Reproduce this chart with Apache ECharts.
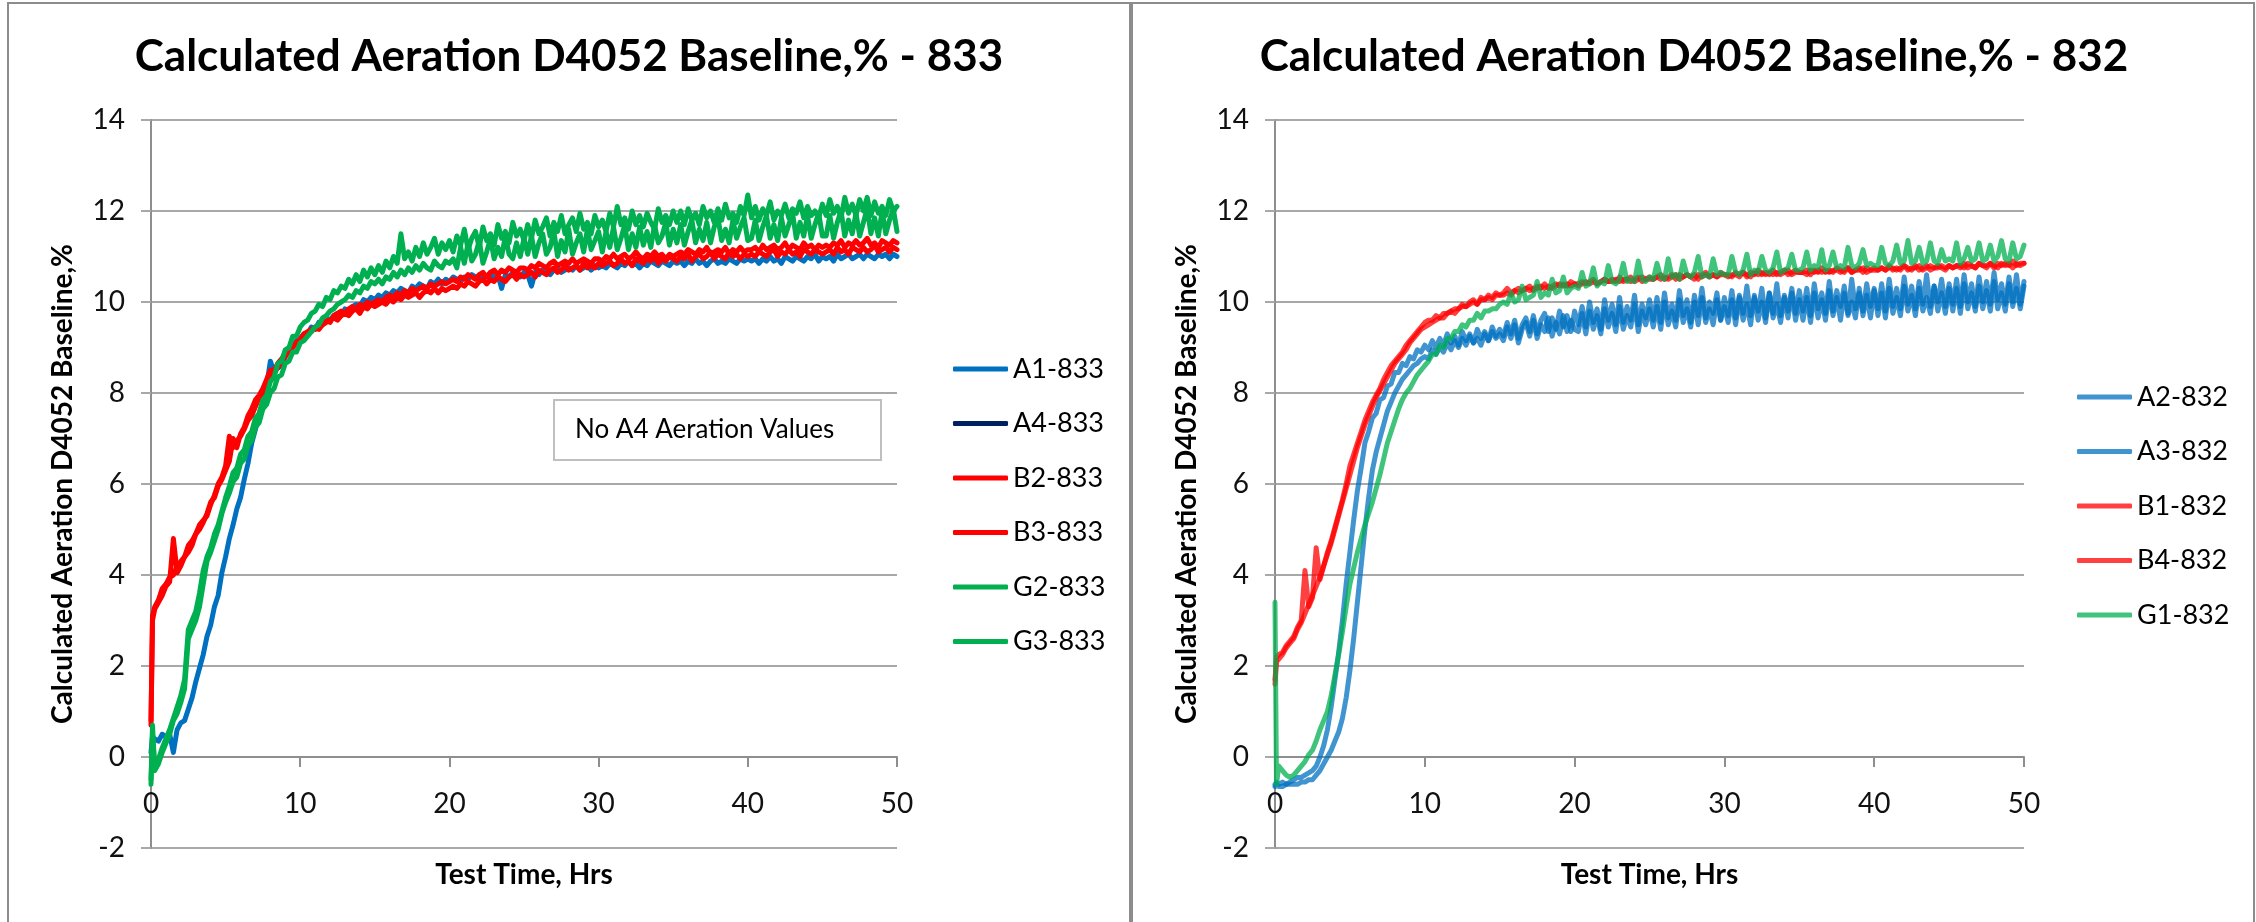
<!DOCTYPE html>
<html>
<head>
<meta charset="utf-8">
<title>Calculated Aeration D4052 Baseline</title>
<script src="https://cdn.jsdelivr.net/npm/echarts@6/dist/echarts.min.js"></script>
<style>
  html, body { margin: 0; padding: 0; background: #ffffff; }
  #chart { width: 2256px; height: 922px; }
</style>
</head>
<body>
<div id="chart"></div>
<script>
// Sample times (hours) shared by every run
const hours = [0, 0.1,
  0.25, 0.5, 0.75, 1, 1.25, 1.5, 1.75, 2, 2.25, 2.5, 2.75, 3, 3.25, 3.5, 3.75, 4, 4.25, 4.5, 4.75, 5,
  5.25, 5.5, 5.75, 6, 6.25, 6.5, 6.75, 7, 7.25, 7.5, 7.75, 8, 8.25, 8.5, 8.75, 9, 9.25, 9.5, 9.75, 10,
  10.25, 10.5, 10.75, 11, 11.25, 11.5, 11.75, 12, 12.25, 12.5, 12.75, 13, 13.25, 13.5, 13.75, 14, 14.25, 14.5, 14.75, 15,
  15.25, 15.5, 15.75, 16, 16.25, 16.5, 16.75, 17, 17.25, 17.5, 17.75, 18, 18.25, 18.5, 18.75, 19, 19.25, 19.5, 19.75, 20,
  20.25, 20.5, 20.75, 21, 21.25, 21.5, 21.75, 22, 22.25, 22.5, 22.75, 23, 23.25, 23.5, 23.75, 24, 24.25, 24.5, 24.75, 25,
  25.25, 25.5, 25.75, 26, 26.25, 26.5, 26.75, 27, 27.25, 27.5, 27.75, 28, 28.25, 28.5, 28.75, 29, 29.25, 29.5, 29.75, 30,
  30.25, 30.5, 30.75, 31, 31.25, 31.5, 31.75, 32, 32.25, 32.5, 32.75, 33, 33.25, 33.5, 33.75, 34, 34.25, 34.5, 34.75, 35,
  35.25, 35.5, 35.75, 36, 36.25, 36.5, 36.75, 37, 37.25, 37.5, 37.75, 38, 38.25, 38.5, 38.75, 39, 39.25, 39.5, 39.75, 40,
  40.25, 40.5, 40.75, 41, 41.25, 41.5, 41.75, 42, 42.25, 42.5, 42.75, 43, 43.25, 43.5, 43.75, 44, 44.25, 44.5, 44.75, 45,
  45.25, 45.5, 45.75, 46, 46.25, 46.5, 46.75, 47, 47.25, 47.5, 47.75, 48, 48.25, 48.5, 48.75, 49, 49.25, 49.5, 49.75, 50];

const xTicks = [0, 10, 20, 30, 40, 50];
const yTicks = [-2, 0, 2, 4, 6, 8, 10, 12, 14];

// ---- Oil 833 ----
const a1_833 = [0.1, 0.45,
  0.4, 0.35, 0.5, 0.45, 0.5, 0.1, 0.6, 0.75, 0.8, 1.05, 1.3, 1.65, 1.95, 2.25, 2.65, 2.9, 3.3, 3.55, 4.05, 4.4,
  4.8, 5.1, 5.45, 5.7, 6.1, 6.45, 6.9, 7.2, 7.55, 7.8, 8.15, 8.7, 8.45, 8.55, 8.6, 8.8, 8.95, 9.0, 9.15, 9.2,
  9.3, 9.3, 9.45, 9.4, 9.55, 9.5, 9.65, 9.6, 9.7, 9.75, 9.7, 9.85, 9.8, 9.9, 9.95, 9.9, 10.05, 10.0, 10.1, 10.05,
  10.15, 10.1, 10.2, 10.15, 10.25, 10.2, 10.3, 10.25, 10.2, 10.35, 10.3, 10.4, 10.35, 10.3, 10.45, 10.4, 10.5, 10.4, 10.5, 10.45,
  10.55, 10.5, 10.45, 10.55, 10.5, 10.6, 10.55, 10.5, 10.6, 10.55, 10.65, 10.5, 10.6, 10.3, 10.6, 10.55, 10.65, 10.6, 10.55, 10.65,
  10.6, 10.35, 10.65, 10.6, 10.7, 10.65, 10.6, 10.7, 10.75, 10.65, 10.7, 10.75, 10.7, 10.8, 10.7, 10.75, 10.8, 10.7, 10.8, 10.75,
  10.8, 10.75, 10.85, 10.8, 10.75, 10.85, 10.8, 10.9, 10.8, 10.85, 10.75, 10.85, 10.8, 10.9, 10.85, 10.8, 10.9, 10.85, 10.8, 10.9,
  10.85, 10.9, 10.8, 10.9, 10.85, 10.95, 10.85, 10.9, 10.8, 10.9, 10.95, 10.85, 10.9, 10.85, 10.95, 10.9, 10.85, 10.95, 10.9, 10.95,
  10.9, 10.95, 10.85, 10.95, 10.9, 11.0, 10.9, 10.95, 10.85, 11.0, 10.95, 10.9, 11.0, 10.95, 10.9, 11.0, 10.95, 11.05, 10.9, 11.0,
  10.95, 11.0, 10.9, 11.05, 10.95, 11.0, 11.05, 10.95, 11.0, 11.05, 10.95, 11.05, 11.0, 10.95, 11.05, 11.0, 11.05, 10.95, 11.05, 11.0];
const a4_833 = [];
const b2_833 = [0.7, 3.0,
  3.25, 3.4, 3.55, 3.75, 3.85, 4.8, 4.05, 4.2, 4.4, 4.5, 4.65, 4.9, 5.0, 5.15, 5.35, 5.6, 5.7, 5.95, 6.1, 6.3,
  6.5, 7.0, 6.8, 7.1, 7.25, 7.5, 7.65, 7.85, 7.95, 8.1, 8.3, 8.5, 8.5, 8.65, 8.75, 8.85, 8.9, 9.05, 9.1, 9.2,
  9.25, 9.3, 9.35, 9.45, 9.4, 9.5, 9.55, 9.6, 9.65, 9.6, 9.7, 9.75, 9.7, 9.8, 9.85, 9.75, 9.9, 9.85, 9.95, 9.9,
  9.95, 10.0, 9.95, 10.05, 10.0, 10.1, 10.05, 10.15, 10.1, 10.15, 10.2, 10.1, 10.2, 10.25, 10.2, 10.3, 10.2, 10.3, 10.25, 10.3,
  10.35, 10.3, 10.4, 10.35, 10.45, 10.4, 10.35, 10.45, 10.5, 10.4, 10.5, 10.45, 10.55, 10.5, 10.45, 10.55, 10.6, 10.5, 10.6, 10.55,
  10.6, 10.65, 10.55, 10.7, 10.65, 10.6, 10.7, 10.75, 10.65, 10.7, 10.8, 10.7, 10.75, 10.8, 10.7, 10.85, 10.75, 10.8, 10.75, 10.85,
  10.8, 10.85, 10.9, 10.8, 10.85, 10.95, 10.85, 10.9, 10.8, 10.95, 10.9, 10.85, 10.95, 10.9, 11.0, 10.85, 10.95, 10.9, 11.0, 10.95,
  10.9, 11.0, 10.95, 11.05, 10.9, 11.0, 11.05, 10.95, 11.0, 11.1, 10.95, 11.05, 11.0, 10.95, 11.1, 11.0, 11.05, 10.95, 11.05, 11.0,
  11.05, 11.0, 11.1, 11.05, 11.0, 11.1, 11.15, 11.0, 11.1, 11.05, 11.15, 11.05, 11.1, 11.0, 11.15, 11.1, 11.05, 11.15, 11.1, 11.05,
  11.1, 11.15, 11.05, 11.2, 11.1, 11.15, 11.05, 11.2, 11.15, 11.1, 11.2, 11.1, 11.15, 11.25, 11.1, 11.15, 11.2, 11.1, 11.2, 11.15];
const b3_833 = [0.8, 3.1,
  3.3, 3.45, 3.7, 3.8, 3.95, 4.0, 4.2, 4.3, 4.4, 4.65, 4.75, 4.9, 5.1, 5.2, 5.3, 5.55, 5.75, 6.0, 6.15, 6.4,
  7.05, 6.8, 6.95, 7.05, 7.2, 7.4, 7.5, 7.7, 7.9, 8.0, 8.15, 8.35, 8.5, 8.55, 8.7, 8.8, 8.95, 9.0, 9.1, 9.15,
  9.3, 9.35, 9.4, 9.4, 9.5, 9.55, 9.6, 9.55, 9.7, 9.75, 9.8, 9.75, 9.85, 9.9, 9.85, 9.95, 9.9, 10.0, 9.95, 10.0,
  10.05, 10.0, 10.1, 10.15, 10.1, 10.2, 10.15, 10.25, 10.2, 10.3, 10.25, 10.3, 10.35, 10.3, 10.4, 10.35, 10.4, 10.45, 10.4, 10.45,
  10.5, 10.45, 10.55, 10.5, 10.6, 10.55, 10.5, 10.6, 10.65, 10.55, 10.65, 10.7, 10.6, 10.7, 10.65, 10.75, 10.7, 10.65, 10.75, 10.75,
  10.7, 10.8, 10.75, 10.85, 10.8, 10.75, 10.85, 10.9, 10.8, 10.85, 10.9, 10.85, 10.95, 10.85, 10.9, 10.95, 10.9, 10.85, 10.95, 10.95,
  10.9, 11.0, 10.95, 11.05, 10.95, 11.0, 11.05, 10.95, 11.0, 11.1, 11.0, 10.95, 11.05, 11.0, 11.1, 11.0, 11.05, 10.95, 11.05, 11.0,
  11.05, 11.1, 11.05, 11.15, 11.1, 11.05, 11.15, 11.1, 11.2, 11.05, 11.1, 11.15, 11.1, 11.2, 11.05, 11.15, 11.1, 11.2, 11.1, 11.15,
  11.15, 11.2, 11.1, 11.25, 11.15, 11.2, 11.25, 11.15, 11.2, 11.3, 11.15, 11.25, 11.2, 11.15, 11.3, 11.2, 11.25, 11.15, 11.25, 11.2,
  11.25, 11.2, 11.3, 11.25, 11.35, 11.2, 11.3, 11.25, 11.35, 11.25, 11.3, 11.4, 11.25, 11.3, 11.2, 11.35, 11.3, 11.25, 11.35, 11.3];
const g2_833 = [-0.6, 0.7,
  -0.3, -0.15, 0.1, 0.3, 0.5, 0.8, 0.95, 1.2, 1.5, 2.6, 2.8, 3.0, 3.3, 3.8, 4.3, 4.5, 4.75, 5.0, 5.35, 5.6,
  5.8, 6.05, 6.15, 6.45, 6.55, 6.85, 6.95, 7.25, 7.35, 7.65, 7.75, 8.0, 8.1, 8.35, 8.4, 8.65, 8.7, 8.9, 8.9, 9.1,
  9.15, 9.25, 9.35, 9.45, 9.5, 9.65, 9.7, 9.8, 9.85, 9.95, 10.0, 10.05, 10.15, 10.1, 10.25, 10.2, 10.35, 10.3, 10.45, 10.4,
  10.5, 10.4, 10.55, 10.5, 10.65, 10.55, 10.7, 10.6, 10.75, 10.65, 10.8, 10.7, 10.85, 10.75, 10.7, 10.9, 10.8, 10.75, 10.9, 10.85,
  10.95, 10.75, 11.2, 10.85, 11.3, 10.9, 11.05, 11.35, 10.85, 11.1, 11.4, 10.95, 11.2, 11.0, 11.45, 11.05, 10.95, 11.3, 11.0, 11.4,
  11.05, 11.45, 11.0, 11.3, 11.5, 11.05, 11.2, 11.55, 11.0, 11.35, 11.1, 11.6, 11.05, 11.3, 11.5, 11.1, 11.6, 11.15, 11.35, 11.55,
  11.1, 11.55, 11.2, 11.65, 11.15, 11.4, 11.7, 11.15, 11.5, 11.2, 11.65, 11.25, 11.55, 11.2, 11.7, 11.3, 11.45, 11.75, 11.25, 11.6,
  11.3, 11.7, 11.25, 11.55, 11.8, 11.3, 11.6, 11.35, 11.75, 11.3, 11.65, 11.85, 11.35, 11.6, 11.3, 11.8, 11.4, 11.65, 11.85, 11.35,
  11.4, 11.8, 11.35, 11.65, 11.9, 11.4, 11.7, 11.35, 11.85, 11.45, 11.7, 11.95, 11.4, 11.75, 11.45, 11.9, 11.4, 11.7, 11.95, 11.45,
  11.45, 11.9, 11.4, 11.75, 12.0, 11.45, 11.8, 11.5, 11.95, 11.45, 11.75, 12.05, 11.5, 11.85, 11.45, 12.0, 11.5, 11.8, 12.05, 11.55];
const g3_833 = [-0.5, 0.5,
  -0.2, -0.05, 0.2, 0.4, 0.6, 0.85, 1.1, 1.35, 1.7, 2.8, 3.0, 3.2, 3.6, 4.1, 4.4, 4.6, 4.9, 5.1, 5.4, 5.7,
  5.95, 6.25, 6.35, 6.65, 6.75, 7.05, 7.15, 7.45, 7.55, 7.85, 7.95, 8.25, 8.35, 8.65, 8.7, 8.95, 9.0, 9.25, 9.25, 9.45,
  9.55, 9.6, 9.75, 9.8, 9.95, 9.9, 10.1, 10.05, 10.25, 10.2, 10.35, 10.3, 10.5, 10.4, 10.6, 10.45, 10.7, 10.55, 10.75, 10.6,
  10.8, 10.65, 10.9, 10.75, 11.0, 10.85, 11.5, 10.95, 11.1, 10.9, 11.2, 11.0, 11.3, 11.05, 11.2, 11.4, 11.05, 11.3, 11.15, 11.35,
  11.1, 11.45, 11.25, 11.6, 11.15, 11.4, 11.55, 11.2, 11.65, 11.35, 11.5, 11.25, 11.7, 11.4, 11.55, 11.3, 11.75, 11.45, 11.6, 11.35,
  11.7, 11.4, 11.8, 11.5, 11.65, 11.85, 11.45, 11.75, 11.55, 11.9, 11.5, 11.7, 11.85, 11.55, 11.95, 11.6, 11.75, 11.5, 11.9, 11.65,
  11.8, 11.55, 11.95, 11.65, 12.1, 11.7, 11.85, 11.6, 12.0, 11.7, 11.9, 11.65, 11.95, 11.75, 11.6, 12.05, 11.75, 11.9, 11.7, 12.0,
  11.75, 12.0, 11.7, 12.05, 11.8, 11.95, 11.7, 12.1, 11.85, 12.0, 11.75, 12.05, 11.8, 12.15, 11.85, 11.95, 11.75, 12.1, 11.9, 12.35,
  11.85, 12.1, 11.8, 12.05, 11.9, 12.2, 11.8, 12.0, 11.9, 12.15, 11.85, 12.05, 11.95, 12.2, 11.85, 12.1, 11.9, 12.0, 11.85, 12.15,
  11.9, 12.25, 11.95, 12.1, 11.85, 12.3, 11.95, 12.15, 11.9, 12.25, 12.0, 12.3, 11.9, 12.2, 11.95, 12.1, 11.9, 12.25, 12.0, 12.1];

// ---- Oil 832 ----
const a2_832 = [-0.6, -0.55,
  -0.6, -0.55, -0.6, -0.55, -0.5, -0.45, -0.45, -0.4, -0.35, -0.3, -0.2, 0.0, 0.25, 0.6, 1.1, 1.7, 2.3, 3.0, 3.8, 4.5,
  5.2, 5.85, 6.35, 6.9, 7.15, 7.45, 7.55, 7.85, 7.9, 8.15, 8.2, 8.45, 8.45, 8.65, 8.6, 8.8, 8.75, 8.95, 8.9, 9.05,
  8.95, 9.15, 9.0, 9.2, 9.05, 9.3, 9.1, 9.25, 9.05, 9.35, 9.15, 9.3, 9.1, 9.4, 9.2, 9.35, 9.15, 9.45, 9.25, 9.4,
  9.25, 9.55, 9.3, 9.6, 9.2, 9.5, 9.65, 9.35, 9.7, 9.3, 9.6, 9.75, 9.35, 9.65, 9.4, 9.8, 9.45, 9.7, 9.35, 9.8,
  9.5, 9.9, 9.45, 10.0, 9.55, 9.85, 9.4, 10.05, 9.6, 9.95, 9.5, 10.1, 9.55, 9.9, 9.6, 10.15, 9.5, 9.95, 9.65, 10.05,
  9.6, 10.1, 9.55, 10.2, 9.65, 9.95, 9.6, 10.25, 9.7, 10.05, 9.55, 10.15, 9.7, 10.3, 9.65, 10.0, 9.75, 10.2, 9.6, 10.1,
  9.7, 10.25, 9.65, 10.15, 9.75, 10.35, 9.7, 10.1, 9.8, 10.3, 9.65, 10.2, 9.75, 10.4, 9.7, 10.15, 9.8, 10.3, 9.75, 10.25,
  9.8, 10.3, 9.7, 10.4, 9.85, 10.2, 9.75, 10.45, 9.8, 10.25, 9.9, 10.35, 9.75, 10.5, 9.85, 10.2, 9.8, 10.4, 9.9, 10.3,
  9.85, 10.4, 9.8, 10.5, 9.9, 10.3, 9.85, 10.55, 9.95, 10.35, 9.85, 10.45, 9.95, 10.6, 9.9, 10.35, 10.0, 10.5, 9.9, 10.4,
  9.95, 10.5, 9.9, 10.6, 10.0, 10.4, 9.9, 10.55, 10.0, 10.45, 9.95, 10.65, 10.05, 10.4, 9.95, 10.55, 10.0, 10.6, 9.95, 10.45];
const a3_832 = [-0.65, -0.6,
  -0.65, -0.65, -0.6, -0.6, -0.6, -0.6, -0.55, -0.55, -0.5, -0.5, -0.4, -0.3, -0.15, 0.0, 0.15, 0.35, 0.55, 0.85, 1.3, 1.9,
  2.6, 3.4, 4.2, 5.0, 5.7, 6.3, 6.7, 7.0, 7.3, 7.6, 7.8, 8.0, 8.15, 8.3, 8.4, 8.5, 8.6, 8.65, 8.75, 8.8,
  8.75, 8.95, 8.85, 9.0, 8.9, 9.1, 8.95, 9.15, 9.0, 9.2, 9.05, 9.25, 9.1, 9.2, 9.05, 9.3, 9.15, 9.35, 9.2, 9.3,
  9.15, 9.45, 9.2, 9.5, 9.1, 9.4, 9.55, 9.25, 9.6, 9.2, 9.5, 9.35, 9.65, 9.25, 9.55, 9.3, 9.7, 9.35, 9.6, 9.4,
  9.35, 9.75, 9.3, 9.8, 9.4, 9.7, 9.3, 9.85, 9.45, 9.75, 9.35, 9.9, 9.4, 9.7, 9.45, 9.95, 9.35, 9.8, 9.5, 9.85,
  9.45, 9.9, 9.4, 10.0, 9.5, 9.8, 9.45, 10.05, 9.55, 9.85, 9.45, 10.0, 9.5, 10.1, 9.55, 9.85, 9.5, 10.05, 9.6, 9.9,
  9.55, 10.05, 9.5, 10.1, 9.6, 9.95, 9.5, 10.15, 9.6, 10.0, 9.55, 10.2, 9.65, 9.95, 9.55, 10.1, 9.65, 10.2, 9.6, 10.05,
  9.6, 10.1, 9.55, 10.2, 9.65, 10.05, 9.6, 10.25, 9.7, 10.1, 9.6, 10.2, 9.7, 10.0, 9.65, 10.3, 9.7, 10.15, 9.65, 10.25,
  9.7, 10.2, 9.65, 10.3, 9.75, 10.1, 9.7, 10.35, 9.8, 10.15, 9.7, 10.3, 9.8, 10.1, 9.75, 10.35, 9.8, 10.2, 9.75, 10.3,
  9.8, 10.3, 9.75, 10.4, 9.85, 10.2, 9.8, 10.35, 9.85, 10.25, 9.8, 10.45, 9.85, 10.2, 9.8, 10.4, 9.9, 10.3, 9.85, 10.35];
const b1_832 = [1.7, 2.2,
  2.25, 2.3, 2.45, 2.55, 2.65, 2.85, 3.0, 4.1, 3.3, 3.5, 4.6, 3.9, 4.2, 4.5, 4.75, 5.05, 5.35, 5.65, 6.0, 6.4,
  6.65, 6.9, 7.15, 7.4, 7.6, 7.8, 7.95, 8.1, 8.3, 8.45, 8.6, 8.7, 8.8, 8.9, 9.05, 9.15, 9.25, 9.35, 9.45, 9.55,
  9.6, 9.6, 9.7, 9.65, 9.75, 9.75, 9.8, 9.85, 9.85, 9.95, 9.9, 10.0, 10.05, 9.95, 10.1, 10.05, 10.15, 10.1, 10.2, 10.15,
  10.2, 10.3, 10.2, 10.25, 10.3, 10.25, 10.3, 10.35, 10.25, 10.35, 10.3, 10.4, 10.3, 10.35, 10.4, 10.35, 10.4, 10.35, 10.45, 10.4,
  10.4, 10.45, 10.4, 10.45, 10.5, 10.4, 10.45, 10.5, 10.45, 10.5, 10.45, 10.55, 10.45, 10.5, 10.55, 10.45, 10.5, 10.55, 10.5, 10.5,
  10.5, 10.55, 10.6, 10.5, 10.55, 10.6, 10.5, 10.6, 10.55, 10.6, 10.55, 10.6, 10.5, 10.6, 10.65, 10.55, 10.6, 10.55, 10.65, 10.6,
  10.6, 10.55, 10.65, 10.6, 10.65, 10.55, 10.65, 10.6, 10.7, 10.6, 10.65, 10.6, 10.7, 10.6, 10.65, 10.7, 10.6, 10.65, 10.7, 10.65,
  10.65, 10.7, 10.6, 10.7, 10.65, 10.75, 10.65, 10.7, 10.65, 10.75, 10.7, 10.65, 10.75, 10.65, 10.7, 10.75, 10.65, 10.75, 10.7, 10.7,
  10.7, 10.75, 10.7, 10.8, 10.7, 10.75, 10.7, 10.8, 10.75, 10.7, 10.8, 10.7, 10.75, 10.8, 10.7, 10.75, 10.8, 10.75, 10.7, 10.8,
  10.75, 10.8, 10.75, 10.85, 10.75, 10.8, 10.75, 10.85, 10.8, 10.75, 10.85, 10.8, 10.75, 10.85, 10.8, 10.85, 10.75, 10.85, 10.8, 10.85];
const b4_832 = [1.6, 2.1,
  2.15, 2.25, 2.4, 2.5, 2.6, 2.8, 2.95, 3.15, 3.35, 3.55, 3.75, 3.95, 4.2, 4.45, 4.7, 5.0, 5.3, 5.6, 5.9, 6.2,
  6.5, 6.8, 7.05, 7.3, 7.5, 7.7, 7.9, 8.05, 8.2, 8.35, 8.5, 8.65, 8.75, 8.85, 8.95, 9.1, 9.2, 9.3, 9.4, 9.45,
  9.5, 9.55, 9.6, 9.65, 9.65, 9.75, 9.8, 9.75, 9.85, 9.9, 9.9, 9.95, 10.0, 9.95, 10.05, 10.05, 10.1, 10.05, 10.15, 10.15,
  10.15, 10.2, 10.15, 10.25, 10.2, 10.25, 10.3, 10.25, 10.3, 10.3, 10.35, 10.3, 10.35, 10.3, 10.35, 10.4, 10.35, 10.4, 10.35, 10.4,
  10.35, 10.4, 10.45, 10.4, 10.45, 10.4, 10.45, 10.5, 10.45, 10.45, 10.5, 10.45, 10.5, 10.5, 10.45, 10.5, 10.55, 10.45, 10.5, 10.55,
  10.5, 10.55, 10.5, 10.55, 10.5, 10.55, 10.6, 10.5, 10.55, 10.6, 10.55, 10.5, 10.6, 10.55, 10.6, 10.55, 10.6, 10.55, 10.6, 10.6,
  10.55, 10.6, 10.6, 10.55, 10.65, 10.6, 10.55, 10.65, 10.6, 10.65, 10.6, 10.65, 10.6, 10.65, 10.6, 10.65, 10.7, 10.6, 10.65, 10.65,
  10.65, 10.6, 10.7, 10.65, 10.7, 10.65, 10.7, 10.65, 10.7, 10.7, 10.65, 10.7, 10.75, 10.65, 10.7, 10.7, 10.75, 10.65, 10.7, 10.75,
  10.7, 10.75, 10.7, 10.75, 10.75, 10.7, 10.75, 10.8, 10.7, 10.75, 10.75, 10.8, 10.7, 10.75, 10.8, 10.75, 10.75, 10.8, 10.75, 10.8,
  10.75, 10.8, 10.8, 10.75, 10.85, 10.8, 10.75, 10.85, 10.8, 10.8, 10.85, 10.75, 10.85, 10.8, 10.85, 10.8, 10.9, 10.8, 10.85, 10.85];
const g1_832 = [3.4, -0.6,
  -0.2, -0.3, -0.4, -0.45, -0.4, -0.3, -0.2, -0.1, 0.05, 0.15, 0.35, 0.6, 0.8, 1.0, 1.35, 1.8, 2.25, 2.75, 3.3, 3.8,
  4.15, 4.5, 4.8, 5.1, 5.35, 5.6, 5.9, 6.2, 6.55, 6.9, 7.15, 7.4, 7.65, 7.85, 8.0, 8.1, 8.25, 8.4, 8.5, 8.6,
  8.7, 8.85, 8.85, 9.05, 9.0, 9.2, 9.2, 9.35, 9.35, 9.5, 9.45, 9.6, 9.6, 9.75, 9.65, 9.8, 9.8, 9.85, 9.85, 9.95,
  10.0, 9.95, 10.2, 10.0, 10.05, 10.35, 10.05, 10.1, 10.15, 10.45, 10.1, 10.2, 10.15, 10.5, 10.2, 10.25, 10.55, 10.2, 10.3, 10.35,
  10.3, 10.65, 10.35, 10.4, 10.75, 10.35, 10.45, 10.4, 10.8, 10.45, 10.4, 10.5, 10.85, 10.45, 10.5, 10.45, 10.9, 10.5, 10.45, 10.55,
  10.5, 10.85, 10.55, 10.5, 10.95, 10.55, 10.6, 10.5, 10.9, 10.6, 10.55, 10.65, 11.0, 10.55, 10.6, 10.55, 10.95, 10.6, 10.65, 10.6,
  10.6, 11.0, 10.65, 10.6, 10.7, 11.05, 10.6, 10.7, 10.65, 11.0, 10.7, 10.65, 10.75, 11.1, 10.65, 10.7, 10.75, 11.05, 10.7, 10.7,
  10.75, 11.1, 10.7, 10.8, 10.75, 11.15, 10.7, 10.8, 11.1, 10.75, 10.8, 10.75, 11.2, 10.8, 10.75, 10.85, 11.15, 10.8, 10.85, 10.8,
  10.8, 11.2, 10.85, 10.8, 10.9, 11.25, 10.85, 10.9, 11.35, 10.85, 10.9, 11.2, 10.85, 10.9, 11.3, 10.9, 10.85, 11.15, 10.9, 10.95,
  10.9, 11.3, 10.85, 10.95, 11.2, 10.9, 10.95, 11.3, 10.9, 10.95, 11.25, 10.9, 11.0, 11.35, 10.95, 10.9, 11.3, 10.95, 11.0, 11.25];

const runs833 = [
  { name: 'A1-833', values: a1_833, color: '#0070C0' },
  { name: 'A4-833', values: a4_833, color: '#002060' },
  { name: 'B2-833', values: b2_833, color: '#FF0000' },
  { name: 'B3-833', values: b3_833, color: '#FF0000' },
  { name: 'G2-833', values: g2_833, color: '#00B050' },
  { name: 'G3-833', values: g3_833, color: '#00B050' }
];
const runs832 = [
  { name: 'A2-832', values: a2_832, color: 'rgba(0,112,192,0.75)' },
  { name: 'A3-832', values: a3_832, color: 'rgba(0,112,192,0.75)' },
  { name: 'B1-832', values: b1_832, color: 'rgba(255,0,0,0.75)' },
  { name: 'B4-832', values: b4_832, color: 'rgba(255,0,0,0.75)' },
  { name: 'G1-832', values: g1_832, color: 'rgba(0,176,80,0.75)' }
];

const FONT = 'Lato';
const GRID_LINE = '#a8a8a8';
const AXIS_LINE = '#8e8e8e';
const GRID_TOP = 120, GRID_HEIGHT = 728;
// The time axis crosses the value axis at 0, two units above the bottom (-2)
const ZERO_OFFSET = -GRID_HEIGHT * (0 - yTicks[0]) / (yTicks[yTicks.length - 1] - yTicks[0]);

function pairs(values) {
  return values.map((v, i) => [hours[i], v]);
}

function makeSeries(runs, idx) {
  return runs.map(r => ({
    name: r.name,
    type: 'line',
    xAxisIndex: idx,
    yAxisIndex: idx,
    data: pairs(r.values),
    showSymbol: false,
    symbol: 'none',
    color: r.color,
    lineStyle: { width: 5, color: r.color, cap: 'round', join: 'round' },
    emphasis: { disabled: true },
    animation: false
  }));
}

function xAxisFor(idx) {
  return {
    type: 'value', gridIndex: idx, position: 'bottom', offset: ZERO_OFFSET,
    min: xTicks[0], max: xTicks[xTicks.length - 1], interval: 10,
    name: 'Test Time, Hrs', nameLocation: 'middle', nameGap: 104,
    nameTextStyle: { fontFamily: FONT, fontWeight: 'bold', fontSize: 28, color: '#000' },
    axisLine: { show: true, onZero: false, lineStyle: { color: AXIS_LINE, width: 2 } },
    axisTick: { show: true, inside: false, length: 10, lineStyle: { color: AXIS_LINE, width: 2 } },
    axisLabel: { fontFamily: FONT, fontSize: 28, color: '#111', margin: 33 },
    splitLine: { show: false }
  };
}

function yAxisFor(idx) {
  return {
    type: 'value', gridIndex: idx,
    min: yTicks[0], max: yTicks[yTicks.length - 1], interval: 2,
    name: 'Calculated Aeration D4052 Baseline,%', nameLocation: 'middle', nameGap: 74, nameRotate: 90,
    nameTextStyle: { fontFamily: FONT, fontWeight: 'bold', fontSize: 28, color: '#000' },
    axisLine: { show: true, onZero: false, lineStyle: { color: AXIS_LINE, width: 2 } },
    axisTick: { show: true, inside: false, length: 10, lineStyle: { color: GRID_LINE, width: 2 } },
    axisLabel: { fontFamily: FONT, fontSize: 28, color: '#111', margin: 26 },
    splitLine: { show: true, lineStyle: { color: GRID_LINE, width: 2 } }
  };
}

function legendFor(runs, left, top) {
  return {
    orient: 'vertical', left: left, top: top, padding: 0,
    icon: 'roundRect', itemWidth: 55, itemHeight: 5, itemGap: 24.5,
    selectedMode: false,
    data: runs.map(r => r.name),
    textStyle: { fontFamily: FONT, fontSize: 27, color: '#000', lineHeight: 30 }
  };
}

const chart = echarts.init(document.getElementById('chart'), null, { renderer: 'canvas' });

chart.setOption({
  animation: false,
  backgroundColor: '#ffffff',
  grid: [
    { left: 151, top: GRID_TOP, width: 746, height: GRID_HEIGHT, outerBoundsMode: 'none' },
    { left: 1275, top: GRID_TOP, width: 749, height: GRID_HEIGHT, outerBoundsMode: 'none' }
  ],
  xAxis: [xAxisFor(0), xAxisFor(1)],
  yAxis: [yAxisFor(0), yAxisFor(1)],
  legend: [legendFor(runs833, 953, 354), legendFor(runs832, 2077, 382)],
  series: makeSeries(runs833, 0).concat(makeSeries(runs832, 1)),
  graphic: [
    { type: 'rect', z: -10, silent: true,
      shape: { x: 8, y: 3, width: 1122, height: 940 },
      style: { fill: 'none', stroke: '#8c8c8c', lineWidth: 2 } },
    { type: 'rect', z: -10, silent: true,
      shape: { x: 1132, y: 3, width: 1122, height: 940 },
      style: { fill: 'none', stroke: '#8c8c8c', lineWidth: 2 } },
    { type: 'text', silent: true, x: 569, y: 57,
      style: { text: 'Calculated Aeration D4052 Baseline,% - 833', fill: '#000',
               font: 'bold 44px Lato', align: 'center', verticalAlign: 'middle' } },
    { type: 'text', silent: true, x: 1694, y: 57,
      style: { text: 'Calculated Aeration D4052 Baseline,% - 832', fill: '#000',
               font: 'bold 44px Lato', align: 'center', verticalAlign: 'middle' } },
    { type: 'rect', z: 50, silent: true,
      shape: { x: 554, y: 400, width: 327, height: 60 },
      style: { fill: '#ffffff', stroke: '#bfbfbf', lineWidth: 2 } },
    { type: 'text', z: 51, silent: true, x: 575, y: 430,
      style: { text: 'No A4 Aeration Values', fill: '#000',
               font: '26px Lato', align: 'left', verticalAlign: 'middle' } }
  ]
});
</script>
</body>
</html>
